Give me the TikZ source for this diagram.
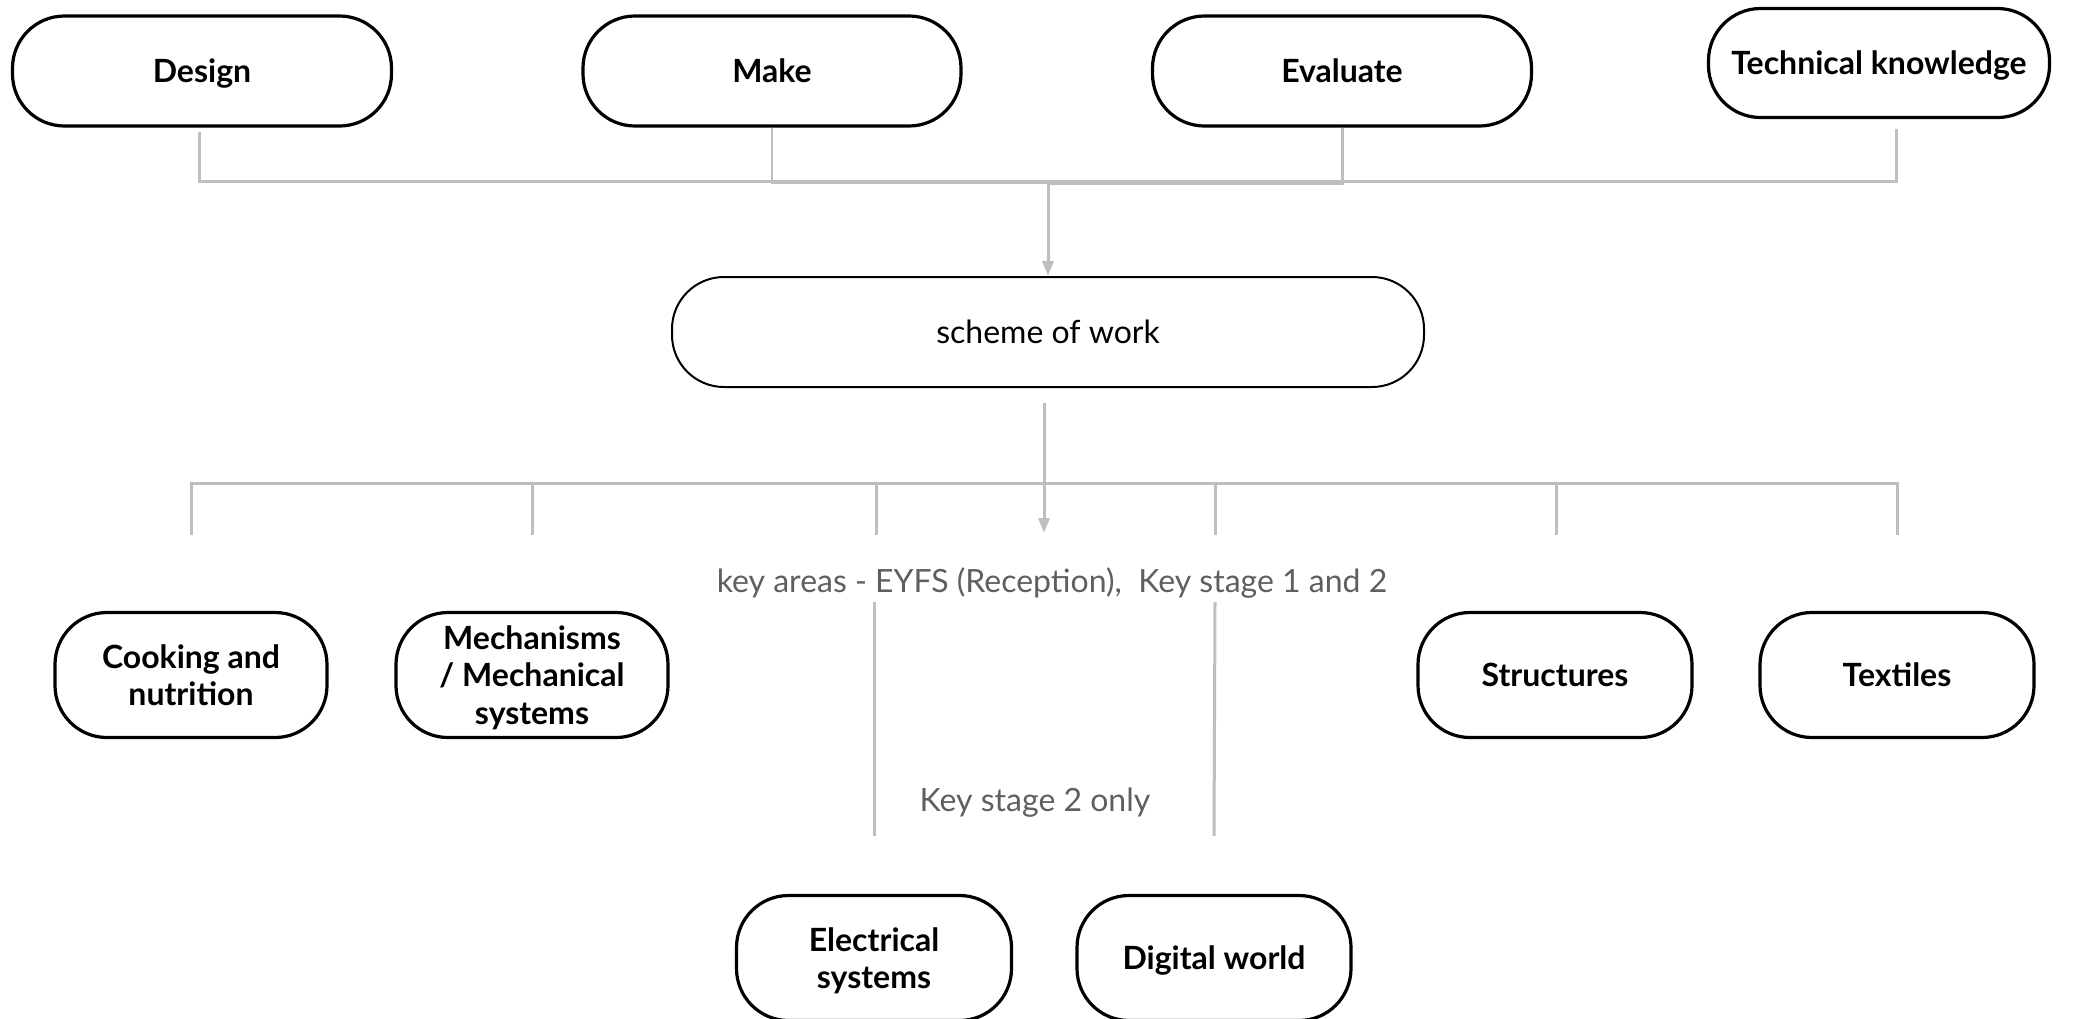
\documentclass[tikz,border=0pt]{standalone}
\usepackage{fontspec}
\setmainfont{Lato}
\usetikzlibrary{arrows.meta}
\definecolor{linegray}{RGB}{190,190,190}
\definecolor{textgray}{RGB}{95,95,95}
\newcommand{\nodp}[1]{\raisebox{0pt}[\height][0pt]{#1}}
\begin{document}
\begin{tikzpicture}[x=1pt,y=-1pt,
  pill/.style={draw=black, line width=3.2pt, rounded corners=52pt, fill=white, align=center,
    font=\fontsize{32}{37.5}\selectfont\bfseries, inner sep=0pt},
  thinpill/.style={pill, line width=2pt, font=\fontsize{32}{37.5}\selectfont},
  conn/.style={draw=linegray, line width=3pt},
  arr/.style={-{Triangle[length=15pt,width=11pt]}},
  lbl/.style={font=\fontsize{32}{37.5}\selectfont, text=textgray, inner sep=0pt}]
\useasboundingbox (0,0) rectangle (2096,1018);

% top row
\node[pill, minimum width=379pt, minimum height=110pt] (design) at (202,71) {\nodp{Design}};
\node[pill, minimum width=378pt, minimum height=110pt] (make) at (772,71) {\nodp{Make}};
\node[pill, minimum width=379pt, minimum height=110pt] (eval) at (1342,71) {\nodp{Evaluate}};
\node[pill, minimum width=341pt, minimum height=109pt] (tk) at (1879,63) {\nodp{Technical knowledge}};

% scheme
\node[thinpill, minimum width=752pt, minimum height=110pt] (sch) at (1048,332) {\nodp{scheme of work}};

% bottom boxes
\node[pill, minimum width=272pt, minimum height=125pt] (cook) at (191,675) {Cooking and\\\nodp{nutrition}};
\node[pill, minimum width=272pt, minimum height=125pt] (mech) at (532,675) {Mechanisms\\/ Mechanical\\\nodp{systems}};
\node[pill, minimum width=274pt, minimum height=125pt] (struct) at (1555,675) {\nodp{Structures}};
\node[pill, minimum width=274pt, minimum height=125pt] (text) at (1897,675) {\nodp{Textiles}};
\node[pill, minimum width=275pt, minimum height=125pt] (elec) at (874,958) {Electrical\\\nodp{systems}};
\node[pill, minimum width=274pt, minimum height=125pt] (dig) at (1214,958) {\nodp{Digital world}};

% labels
\node[lbl] (ka) at (1052,583) {key areas - EYFS (Reception),\ \ Key stage 1 and 2};
\node[lbl] (ks2) at (1035,803) {Key stage 2 only};

% top connectors
\coordinate (hubtop) at (1048,181);
\coordinate (tkdrop) at (1896,129);
\draw[conn] ([xshift=-3pt,yshift=-4pt]design.south) |- (hubtop);
\draw[conn, line width=1.5pt] (make.south) |- ([yshift=-2pt]hubtop);
\draw[conn] (eval.south) |- ([yshift=-2pt]hubtop);
\draw[conn] (tkdrop) |- (hubtop);
\draw[conn, arr] (hubtop) -- (sch.north);

% bottom connectors
\coordinate (bus) at (1044,483);
\coordinate (b1) at (191,535);
\coordinate (b2) at (532,535);
\coordinate (b3) at (876,535);
\coordinate (b4) at (1215,535);
\coordinate (b5) at (1556,535);
\coordinate (b6) at (1897,535);
\draw[conn, arr] ([xshift=-4pt,yshift=-15pt]sch.south) -- (1044,533);
\draw[conn] (b1) |- (bus) -| (b6);
\foreach \b in {b2,b3,b4,b5} \draw[conn] (\b) -- (\b |- bus);

% key stage 2 lines
\coordinate (k1) at (874,602);
\coordinate (k2) at (1215,602);
\draw[conn] (k1) -- ([yshift=58pt]elec.north);
\draw[conn] (k2) -- ([yshift=58pt]dig.north);
\end{tikzpicture}
\end{document}
